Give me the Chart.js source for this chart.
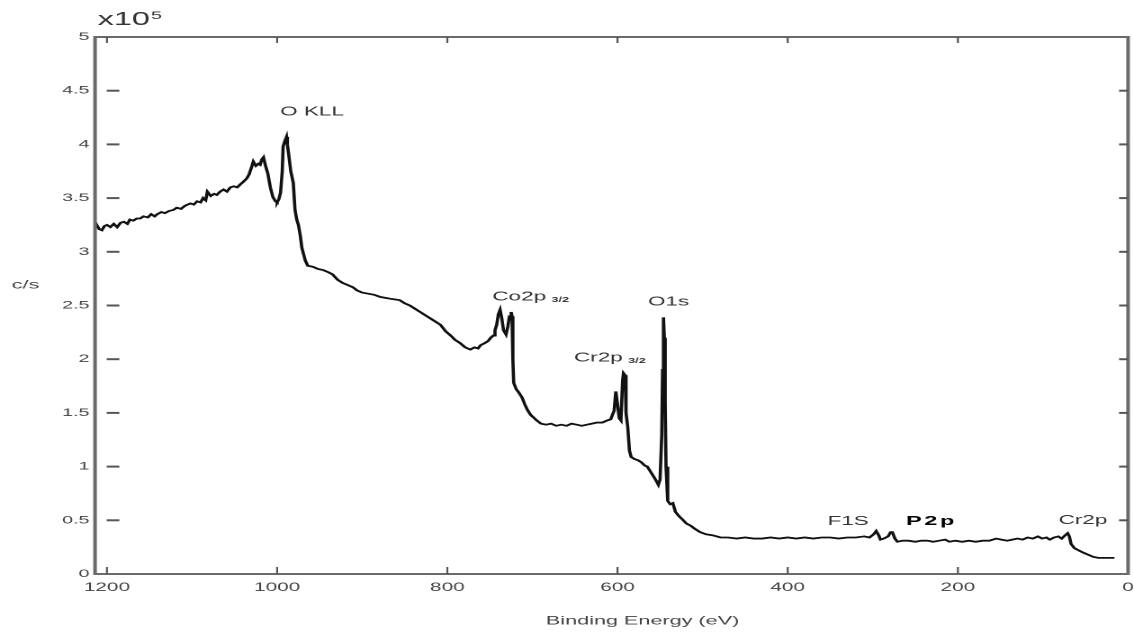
<!DOCTYPE html>
<html><head><meta charset="utf-8">
<script src="https://cdn.jsdelivr.net/npm/chart.js@4.4.1/dist/chart.umd.min.js"></script>
<style>
html,body{margin:0;padding:0;background:#fff;overflow:hidden;width:1134px;height:634px;}
#wrap{position:absolute;left:0;top:0;width:630px;height:634px;transform:scaleX(1.8);transform-origin:0 0;}
</style></head><body>
<div id="wrap"><canvas id="c"></canvas></div>
<script>
// Binding energy (eV) and intensity (counts/s, x10^5)
const energy = [1214,1212,1209,1206,1203,1200,1196,1192,1188,1184,1180,1176,1173,1169,1165,1161,1157,1152,1148,1144,
1141,1136,1132,1127,1122,1118,1113,1108,1102,1098,1094,1090,1087,1084,1082,1078,1074,1071,1067,1063,
1059,1055,1051,1047,1043,1040,1036,1033,1030,1028,1025,1022,1020,1018,1016,1014,1011,1008,1005,1002,
1000,998,996,994,993,991,989,988,986,984,981,979,977,975,973,971,969,967,964,958,
952,946,940,935,929,923,917,911,906,900,893,886,879,872,865,856,850,844,838,832,
826,820,814,808,802,796,791,785,779,773,768,764,761,756,752,749,746,744,742,740,
738,736,734,731,729,727,725,724,723,722,719,716,712,709,706,702,699,695,690,684,
678,672,666,660,654,648,642,636,630,624,618,612,608,604,602,600,598,596,594,593,
591,590,588,586,584,580,576,572,568,565,561,557,554,552,550,548,547,546,545,544,
543,541,538,535,532,528,524,519,514,509,503,496,488,479,470,460,450,440,430,420,
410,400,390,380,370,360,350,340,330,320,310,304,299,296,293,291,287,282,279,277,
274,271,265,258,250,243,236,229,222,215,210,203,195,187,179,171,163,155,149,142,
136,130,124,118,112,106,101,96,92,87,82,78,74,71,69,67,63,58,53,47,
41,35,28,22,16];
const counts = [3.22,3.25,3.21,3.20,3.24,3.25,3.23,3.26,3.23,3.27,3.28,3.26,3.30,3.29,3.31,3.31,3.33,3.32,3.35,3.33,
3.35,3.37,3.36,3.38,3.39,3.41,3.40,3.43,3.45,3.44,3.47,3.46,3.50,3.48,3.56,3.52,3.54,3.53,3.56,3.58,
3.56,3.60,3.61,3.60,3.63,3.65,3.68,3.72,3.79,3.84,3.80,3.82,3.81,3.86,3.88,3.81,3.73,3.60,3.51,3.47,
3.46,3.49,3.55,3.75,3.98,4.03,4.07,4.00,3.88,3.75,3.64,3.39,3.30,3.25,3.16,3.04,2.98,2.92,2.87,2.86,
2.84,2.83,2.81,2.79,2.74,2.71,2.69,2.67,2.64,2.62,2.61,2.60,2.58,2.57,2.56,2.55,2.52,2.50,2.47,2.44,
2.41,2.38,2.35,2.32,2.26,2.22,2.18,2.15,2.11,2.09,2.11,2.10,2.13,2.15,2.17,2.20,2.22,2.27,2.32,2.42,
2.46,2.38,2.27,2.23,2.30,2.40,2.44,2.40,2.00,1.78,1.72,1.69,1.64,1.58,1.53,1.48,1.46,1.43,1.40,1.39,
1.40,1.38,1.39,1.38,1.40,1.39,1.38,1.39,1.40,1.41,1.41,1.43,1.44,1.52,1.70,1.58,1.45,1.43,1.80,1.87,
1.85,1.50,1.37,1.15,1.09,1.07,1.06,1.04,1.01,1.00,0.95,0.90,0.86,0.83,0.88,1.30,1.90,2.39,2.20,1.60,
1.00,0.68,0.65,0.66,0.58,0.54,0.51,0.47,0.45,0.42,0.39,0.37,0.36,0.34,0.34,0.33,0.34,0.33,0.33,0.34,
0.33,0.34,0.33,0.34,0.33,0.34,0.34,0.33,0.34,0.34,0.35,0.34,0.37,0.40,0.36,0.32,0.33,0.35,0.39,0.39,
0.33,0.30,0.31,0.31,0.30,0.31,0.31,0.30,0.31,0.32,0.30,0.31,0.30,0.31,0.30,0.31,0.31,0.33,0.32,0.31,
0.32,0.33,0.32,0.34,0.33,0.35,0.33,0.34,0.32,0.34,0.35,0.33,0.36,0.38,0.35,0.28,0.24,0.22,0.20,0.18,
0.16,0.15,0.15,0.15,0.15];

const xTickValues = [1200,1000,800,600,400,200,0];
const yTickValues = [0,0.5,1,1.5,2,2.5,3,3.5,4,4.5,5];

// Peak annotations (anchored in data coordinates)
const peakNames  = ["O KLL","Co2p","O1s","Cr2p","F1S","P2p","Cr2p"];
const peakSubs   = ["","3/2","","3/2","","",""];
const peakEnergy = [959,702,540,609,329,231,53];
const peakCounts = [4.30,2.58,2.53,2.01,0.49,0.49,0.50];

const xTitle = "Binding Energy (eV)";
const yTitle = "c/s";

const points = energy.map((e,i)=>({x:e,y:counts[i]}));

const decor = {
  id:'decor',
  afterDraw(chart){
    const {ctx, chartArea:a, scales:{x,y}} = chart;
    const line=(x1,y1,x2,y2)=>{ctx.beginPath();ctx.moveTo(x1,y1);ctx.lineTo(x2,y2);ctx.stroke();};
    ctx.save();
    // frame
    ctx.strokeStyle='#6a6a6a'; ctx.lineWidth=2;
    ctx.strokeRect(a.left, a.top, a.right-a.left, a.bottom-a.top);
    // inner ticks
    ctx.strokeStyle='#555'; ctx.lineWidth=2;
    yTickValues.forEach(v=>{
      if(v<=0||v>=5) return;
      const py=y.getPixelForValue(v);
      line(a.left+6.5,py,a.left+13.5,py);
      line(a.right-5,py,a.right,py);
    });
    ctx.lineWidth=1.1;
    xTickValues.forEach(v=>{
      const px=x.getPixelForValue(v);
      if(px<a.left+1||px>a.right-1) return;
      line(px,a.bottom,px,a.bottom-7);
      line(px,a.top,px,a.top+6);
    });
    // peak labels
    ctx.textBaseline='middle';
    peakNames.forEach((name,i)=>{
      const px=x.getPixelForValue(peakEnergy[i]);
      const py=y.getPixelForValue(peakCounts[i]);
      const bold = name==='P2p';
      ctx.font = bold ? 'bold 13px "Liberation Sans", Arial, sans-serif' : '12.5px "Liberation Sans", Arial, sans-serif';
      ctx.letterSpacing = bold ? '1.5px' : '0px';
      ctx.fillStyle = bold ? '#000' : '#333';
      const w = ctx.measureText(name).width;
      let sw = 0;
      const subFont='bold 7px "Liberation Sans", Arial, sans-serif';
      if(peakSubs[i]){
        ctx.save(); ctx.font=subFont; sw = ctx.measureText(peakSubs[i]).width + 3; ctx.restore();
      }
      const x0 = px - (w+sw)/2;
      ctx.textAlign='left';
      ctx.fillText(name, x0, py);
      if(peakSubs[i]){
        ctx.font=subFont; ctx.letterSpacing='0px';
        ctx.fillText(peakSubs[i], x0+w+3, py+3);
      }
    });
    ctx.letterSpacing='0px';
    // exponent label
    ctx.fillStyle='#333';
    ctx.textBaseline='alphabetic'; ctx.textAlign='left';
    ctx.font='18px "Liberation Sans", Arial, sans-serif';
    ctx.fillText('x10', a.left+1.5, 25);
    const wx = ctx.measureText('x10').width;
    ctx.font='11px "Liberation Sans", Arial, sans-serif';
    ctx.fillText('5', a.left+1.5+wx+0.5, 19);
    // axis titles
    ctx.fillStyle='#444';
    ctx.font='12px "Liberation Sans", Arial, sans-serif';
    ctx.textBaseline='middle';
    ctx.textAlign='left';
    ctx.fillText(yTitle, 6.5, 285);
    ctx.textAlign='center';
    ctx.fillText(xTitle, 357, 621);
    ctx.restore();
  }
};

new Chart(document.getElementById('c'), {
  type:'scatter',
  data:{datasets:[{
    data:points, showLine:true, borderColor:'#111', borderWidth:1.8,
    pointRadius:0, tension:0, fill:false
  }]},
  options:{
    responsive:true, maintainAspectRatio:false, animation:false,
    devicePixelRatio:2,
    layout:{padding:{left:0,right:3.3,top:37,bottom:0}},
    plugins:{legend:{display:false},tooltip:{enabled:false}},
    scales:{
      x:{
        type:'linear', reverse:true, min:0, max:1214,
        grid:{display:false, drawTicks:false}, border:{display:false},
        afterBuildTicks:(s)=>{ s.ticks = xTickValues.map(v=>({value:v})); },
        afterFit:(s)=>{ s.height = 60; s.paddingLeft = 0; s.paddingRight = 0; },
        ticks:{autoSkip:false, maxRotation:0, padding:7, color:'#444',
          font:{family:'"Liberation Sans", Arial, sans-serif', size:11.5},
          callback:(v)=>String(v)}
      },
      y:{
        type:'linear', min:0, max:5,
        grid:{display:false, drawTicks:false}, border:{display:false},
        afterBuildTicks:(s)=>{ s.ticks = yTickValues.map(v=>({value:v})); },
        afterFit:(s)=>{ s.width = 52.8; s.paddingTop = 0; s.paddingBottom = 0; },
        ticks:{autoSkip:false, padding:3, color:'#444',
          font:{family:'"Liberation Sans", Arial, sans-serif', size:11},
          callback:(v)=>String(v)}
      }
    }
  },
  plugins:[decor]
});
</script>
</body></html>
